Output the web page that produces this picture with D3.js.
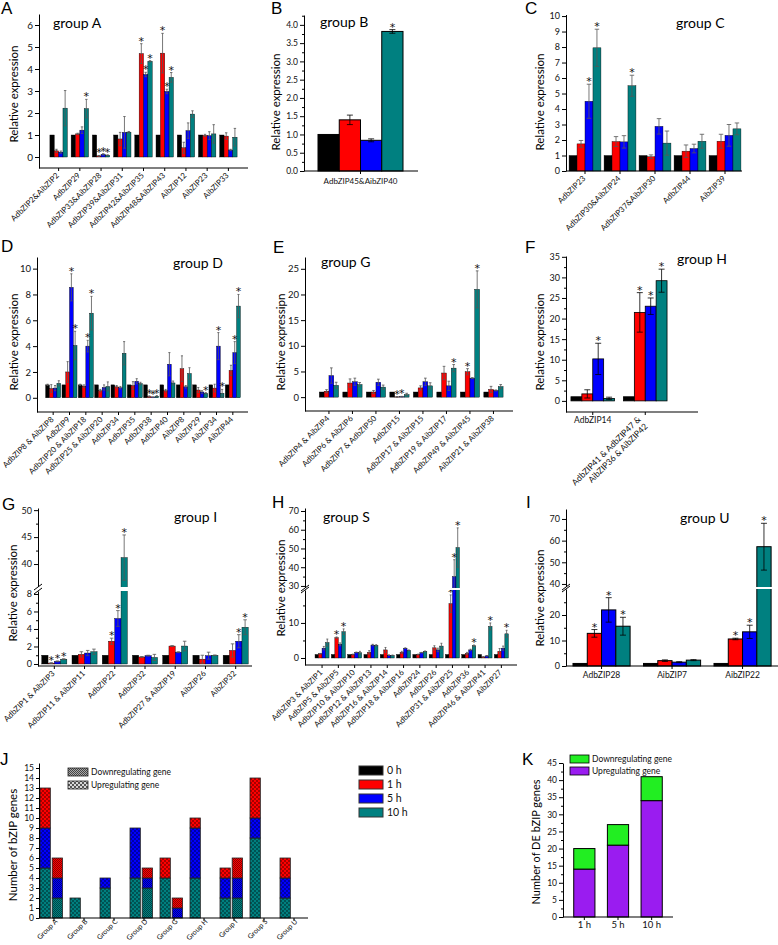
<!DOCTYPE html>
<html><head><meta charset="utf-8">
<script src="https://cdn.jsdelivr.net/npm/d3@7"></script>
<style>
body{margin:0;background:#fff;}
svg{display:block;}
</style></head><body>
<svg id="fig" width="778" height="945"></svg>
<script>
// ---------- shared ----------
const timeLabels = ["0 h","1 h","5 h","10 h"];
const timeColors = ["#000000","#ff0000","#0000ff","#008080"];

// ---------- A: group A ----------
const aCats = ["AdbZIP2&AibZIP2","AdbZIP29","AdbZIP33&AibZIP28","AdbZIP39&AibZIP31","AdbZIP42&AibZIP35","AdbZIP48&AibZIP43","AibZIP12","AibZIP23","AibZIP33"];
const aVals = [[1,0.28,0.22,2.22],[1,1.05,1.22,2.2],[1,0.05,0.12,0.08],[1,0.82,1.12,1.13],[1,4.7,3.75,4.35],[1,4.72,2.98,3.62],[1,0.42,1.2,1.95],[1,0.98,0.97,1.05],[1,0.95,0.32,0.9]];
const aErrs = [[0,0.07,0.05,0.8],[0,0.03,0.15,0.42],[0,0.02,0.03,0.02],[0,0.3,0.72,0.03],[0,0.45,0.1,0.03],[0,0.9,0.1,0.22],[0,0.25,0.35,0.15],[0,0.05,0.18,0.42],[0,0.15,0.03,0.4]];
const aStars = [[0,0,0,0],[0,0,0,1],[0,1,1,1],[0,0,0,0],[0,1,1,1],[0,1,1,1],[0,0,0,0],[0,0,0,0],[0,0,0,0]];

// ---------- B: group B ----------
const bCats = ["AdbZIP45&AibZIP40"];
const bVals = [[1,1.4,0.84,3.82]];
const bErrs = [[0,0.13,0.04,0.05]];
const bStars = [[0,0,0,1]];

// ---------- C: group C ----------
const cCats = ["AdbZIP23","AdbZIP30&AibZIP24","AdbZIP37&AibZIP30","AdbZIP44","AibZIP39"];
const cVals = [[1,1.75,4.5,7.95],[1,1.9,1.88,5.5],[1,0.92,2.88,1.8],[1,1.28,1.45,1.92],[1,1.92,2.3,2.72]];
const cErrs = [[0,0.22,1.1,1.2],[0,0.32,0.4,0.68],[0,0.12,0.5,0.78],[0,0.4,0.28,0.45],[0,0.45,0.7,0.38]];
const cStars = [[0,0,1,1],[0,0,0,1],[0,0,0,0],[0,0,0,0],[0,0,0,0]];

// ---------- D: group D ----------
const dCats = ["AdbZIP8 & AibZIP8","AdbZIP9","AdbZIP20 & AibZIP18","AdbZIP25 & AibZIP20","AdbZIP34","AdbZIP35","AdbZIP38","AdbZIP40","AibZIP8","AibZIP29","AibZIP34","AibZIP44"];
const dVals = [[1,0.72,0.75,1.12],[1,2.0,8.55,4.05],[1,0.9,4.0,6.55],[1,0.55,0.8,0.88],[1,0.85,0.78,3.45],[1,0.95,1.28,1.1],[1,0.1,0.05,0.12],[1,0.55,2.6,1.15],[1,2.25,0.85,1.88],[1,0.6,0.45,0.35],[1,0.75,4.0,0.35],[1,2.12,3.5,7.1]];
const dErrs = [[0.05,0.3,0.2,0.2],[0,0.8,1.05,1.1],[0.05,0.1,0.45,1.3],[0,0.1,0.2,0.35],[0,0.1,0.1,0.9],[0,0.3,0.2,0.1],[0,0.05,0.03,0.05],[0,0.1,0.9,0.15],[0,1.0,0.1,0.45],[0,0.2,0.1,0.05],[0,0.3,1.05,0.3],[0,0.4,0.85,0.9]];
const dStars = [[0,0,0,0],[0,0,1,1],[0,0,1,1],[0,0,0,0],[0,0,0,0],[0,0,0,0],[0,1,1,1],[0,0,0,0],[0,0,0,0],[0,0,0,1],[0,0,1,1],[0,0,1,1]];

// ---------- E: group G ----------
const eCats = ["AdbZIP4 & AibZIP4","AdbZIP6 & AibZIP6","AdbZIP7 & AdbZIP50","AdbZIP15","AdbZIP17 & AibZIP15","AdbZIP19 & AibZIP17","AdbZIP49 & AibZIP45","AibZIP21 & AibZIP38"];
const eVals = [[1,1.15,4.2,2.3],[1,2.75,3.0,2.45],[1,1.0,2.9,1.95],[1,0.05,0.1,0.5],[1,1.8,3.0,2.2],[1,4.7,2.2,5.65],[1,4.95,3.7,21.0],[1,1.5,1.3,2.05]];
const eErrs = [[0,0.3,1.5,0.6],[0,0.8,0.7,0.4],[0,0.3,0.6,0.4],[0,0.05,0.05,0.25],[0,0.4,0.7,0.6],[0,1.3,0.9,0.7],[0,0.6,0.1,3.6],[0,0.6,0.1,0.4]];
const eStars = [[0,0,0,0],[0,0,0,0],[0,0,0,0],[0,1,1,0],[0,0,0,0],[0,0,0,1],[0,1,0,1],[0,0,0,0]];

// ---------- F: group H ----------
const fCats = ["AdbZIP14","AdbZIP41 & AdbZIP47 &\nAibZIP36 & AibZIP42"];
const fVals = [[1,1.7,10.2,0.6],[1,21.5,23.0,29.2]];
const fErrs = [[0,1.0,3.8,0.3],[0,4.8,2.0,2.8]];
const fStars = [[0,0,1,0],[0,1,1,1]];

// ---------- G: group I ----------
const gCats = ["AdbZIP1 & AibZIP3","AdbZIP11 & AibZIP11","AdbZIP22","AdbZIP32","AdbZIP27 & AibZIP19","AibZIP26","AibZIP32"];
const gVals = [[1,0.1,0.3,0.55],[1,1.1,1.25,1.4],[1,2.6,5.2,41.2],[1,0.8,0.95,0.75],[1,2.05,1.35,2.05],[1,0.55,0.95,1.0],[1,1.55,2.6,4.2]];
const gErrs = [[0,0.05,0.05,0.05],[0,0.3,0.3,0.3],[0,0.35,0.9,4.2],[0,0.05,0.05,0.35],[0,0.05,0.05,0.55],[0,0.45,0.4,0.03],[0,0.75,0.75,0.85]];
const gStars = [[0,1,1,1],[0,0,0,0],[0,1,1,1],[0,0,0,0],[0,0,0,0],[0,0,0,0],[0,0,1,1]];

// ---------- H: group S ----------
const hCats = ["AdbZIP3 & AibZIP1","AdbZIP5 & AibZIP5","AdbZIP10 & AibZIP10","AdbZIP12 & AibZIP13","AdbZIP16 & AibZIP14","AdbZIP18 & AibZIP16","AdbZIP24","AdbZIP26","AdbZIP31 & AibZIP25","AdbZIP36","AdbZIP46 & AibZIP41","AibZIP27"];
const hVals = [[1,1.2,2.8,4.4],[1,5.8,3.9,7.5],[1,1.0,1.6,1.5],[1,1.6,3.7,3.6],[1,2.3,0.8,0.75],[1,1.6,2.8,2.2],[1,1.0,1.5,1.9],[1,2.9,2.3,3.4],[1,15.5,35,50.5],[1,1.3,2.3,3.5],[1,0.3,0.6,9.0],[1,1.9,2.8,6.9]];
const hErrs = [[0,0.1,0.5,1.0],[0,0.2,0.4,0.8],[0,0.1,0.1,0.4],[0,0.5,0.2,0.2],[0,0.7,0.1,0.1],[0,0.3,0.1,0.1],[0,0.1,0.1,0.1],[0,0.6,0.5,0.8],[0,2.5,9,10.5],[0,0.3,0.2,0.2],[0,0.1,0.1,1.0],[0,0.8,0.6,1.0]];
const hStars = [[0,0,0,0],[0,1,0,1],[0,0,0,0],[0,0,0,0],[0,0,0,0],[0,0,0,0],[0,0,0,0],[0,0,0,0],[0,1,1,1],[0,0,0,1],[0,0,0,1],[0,0,0,1]];

// ---------- I: group U ----------
const iCats = ["AdbZIP28","AibZIP7","AibZIP22"];
const iVals = [[1,12.8,22,15.6],[1,2.1,1.5,2.3],[1,10.6,13.4,57.2]];
const iErrs = [[0,1.5,4.8,3.5],[0,0.3,0.2,0.2],[0,0.3,2.6,10.8]];
const iStars = [[0,1,1,1],[0,0,0,0],[0,1,1,1]];

// ---------- J: counts per group ----------
const jGroups = ["Group A","Group B","Group C","Group D","Group G","Group H","Group I","Group S","Group U"];
const jUp10 = [5,2,3,4,4,4,2,8,2];
const jUp5  = [4,0,1,5,0,5,2,2,2];
const jUp1  = [4,0,0,0,2,1,1,4,2];
const jDown10 = [2,0,0,3,0,0,2,0,0];
const jDown5  = [2,0,0,1,1,0,2,0,0];
const jDown1  = [2,0,0,1,1,0,2,0,0];
const jTicks = d3.range(0,16);

// ---------- K: DE totals ----------
const kTimes = ["1 h","5 h","10 h"];
const kUp = [14,21,34];
const kDown = [6,6,7];
const kTicks = [0,5,10,15,20,25,30,35,40,45];
const kColors = {up:"#9a1cf0", down:"#22ee22"};

// ================= drawing =================
const FONT = "Lato, 'Open Sans', 'DejaVu Sans', sans-serif";
const svg = d3.select("#fig");
svg.append("rect").attr("width",778).attr("height",945).attr("fill","#fff");
const defs = svg.append("defs");

function letter(t,x,y){
  svg.append("text").attr("x",x).attr("y",y).attr("font-family","'Liberation Sans', Arial, sans-serif")
    .attr("font-size",17).attr("fill","#000").text(t);
}
function title(t,x,y){
  svg.append("text").attr("x",x).attr("y",y).attr("font-family",FONT).attr("font-size",14).attr("fill","#000").text(t);
}
function yLabel(t,x,cy,size){
  svg.append("text").attr("transform",`translate(${x},${cy}) rotate(-90)`).attr("text-anchor","middle")
    .attr("dominant-baseline","middle").attr("font-family",FONT).attr("font-size",size||11.5).attr("fill","#000").text(t);
}
function styleAxis(ax,size){
  ax.attr("font-family",FONT).attr("font-size",size);
  ax.selectAll("path,line").attr("stroke","#000").attr("stroke-width",1);
  ax.selectAll("text").attr("fill","#111");
}

function drawGrouped(c){
  const g = svg.append("g");
  const x = d3.scaleBand().domain(c.cats).range(c.band).paddingInner(c.pi).paddingOuter(c.po);
  const xs = d3.scaleBand().domain(d3.range(4)).range([0, x.bandwidth()]);
  let yf, segs;
  if (c.broken){
    const yl = d3.scaleLinear().domain(c.lower.domain).range(c.lower.range);
    const yu = d3.scaleLinear().domain(c.upper.domain).range(c.upper.range);
    yf = v => v <= c.lower.domain[1] ? yl(v) : yu(Math.max(v, c.upper.domain[0]));
    segs = [[yl,c.lower],[yu,c.upper]];
  } else {
    const y = d3.scaleLinear().domain(c.domain).range(c.range);
    yf = y; segs = [[y,c]];
  }
  const items = c.cats.flatMap((cat,i)=>c.vals[i].map((v,k)=>({cat,k,v,e:c.errs[i][k],s:c.stars[i][k]})));
  g.selectAll("rect.bar").data(items).join("rect").attr("class","bar")
    .attr("x",d=>x(d.cat)+xs(d.k)).attr("width",xs.bandwidth())
    .attr("y",d=>yf(d.v)).attr("height",d=>yf(0)-yf(d.v))
    .attr("fill",d=>timeColors[d.k]).attr("stroke","#000").attr("stroke-width",c.sw);
  const cap = Math.min(3, xs.bandwidth()*0.28);
  const eb = g.selectAll("g.err").data(items.filter(d=>d.e>0)).join("g").attr("class","err")
    .attr("stroke",c.errColor).attr("stroke-width",0.8);
  eb.append("line").attr("x1",d=>x(d.cat)+xs(d.k)+xs.bandwidth()/2).attr("x2",d=>x(d.cat)+xs(d.k)+xs.bandwidth()/2)
    .attr("y1",d=>yf(d.v-d.e)).attr("y2",d=>yf(d.v+d.e));
  eb.append("line").attr("x1",d=>x(d.cat)+xs(d.k)+xs.bandwidth()/2-cap).attr("x2",d=>x(d.cat)+xs(d.k)+xs.bandwidth()/2+cap)
    .attr("y1",d=>yf(d.v+d.e)).attr("y2",d=>yf(d.v+d.e));
  eb.append("line").attr("x1",d=>x(d.cat)+xs(d.k)+xs.bandwidth()/2-cap).attr("x2",d=>x(d.cat)+xs(d.k)+xs.bandwidth()/2+cap)
    .attr("y1",d=>yf(d.v-d.e)).attr("y2",d=>yf(d.v-d.e));
  g.selectAll("text.star").data(items.filter(d=>d.s)).join("text").attr("class","star")
    .attr("x",d=>x(d.cat)+xs(d.k)+xs.bandwidth()/2).attr("y",d=>yf(d.v+d.e)+1)
    .attr("text-anchor","middle").attr("font-family","'DejaVu Sans', sans-serif").attr("font-size",11).attr("fill","#111").text("*");
  if (c.broken){
    g.append("rect").attr("x",c.axisX+1).attr("width",c.xEnd-c.axisX).attr("y",c.upper.range[0])
      .attr("height",c.lower.range[1]-c.upper.range[0]).attr("fill","#fff");
  }
  // y axes
  segs.forEach(([s,cfg])=>{
    const ax = g.append("g").attr("transform",`translate(${c.axisX},0)`)
      .call(d3.axisLeft(s).tickValues(cfg.ticks).tickSize(4).tickSizeOuter(0).tickPadding(2).tickFormat(c.fmt||d3.format("")));
    styleAxis(ax,c.tickSize||10);
    if (cfg.minor){
      const mx = g.append("g").attr("transform",`translate(${c.axisX},0)`)
        .call(d3.axisLeft(s).tickValues(cfg.minor).tickSize(2).tickFormat(""));
      mx.select(".domain").remove(); styleAxis(mx,8);
    }
  });
  if (c.broken){
    const t = c.upper.range[0], b = c.lower.range[1];
    g.append("rect").attr("x",c.axisX-4).attr("width",8).attr("y",t).attr("height",b-t).attr("fill","#fff");
    [t,b].forEach(yy=>g.append("line").attr("x1",c.axisX-4).attr("x2",c.axisX+4).attr("y1",yy+3).attr("y2",yy-3)
      .attr("stroke","#000").attr("stroke-width",1));
  }
  // x axis
  g.append("line").attr("x1",c.axisX).attr("x2",c.xEnd).attr("y1",c.xAxisY).attr("y2",c.xAxisY).attr("stroke","#000").attr("stroke-width",1.2);
  const xa = g.append("g").attr("transform",`translate(0,${c.xAxisY})`).call(d3.axisBottom(x).tickSize(3).tickSizeOuter(0));
  xa.select(".domain").remove();
  styleAxis(xa,c.labelSize);
  xa.selectAll("text").each(function(d,i){
    const t = d3.select(this);
    const mode = typeof c.labelMode === "function" ? c.labelMode(i) : c.labelMode;
    const lines = String(d).split("\n");
    t.text(null).attr("dy",null);
    if (mode==="h") t.attr("x",0).attr("y",c.hOffset).attr("text-anchor","middle");
    else t.attr("x",0).attr("y",0).attr("text-anchor","end").attr("transform",`translate(${c.rdx??1},${c.rdy??8}) rotate(-45)`);
    lines.forEach((ln,j)=>t.append("tspan").attr("x",0).attr("dy",j?"1.15em":0).text(ln));
  });
}

// ----- panels -----
letter("A",1,14); title("group A",53,28); yLabel("Relative expression",15,94);
drawGrouped({cats:aCats,vals:aVals,errs:aErrs,stars:aStars,band:[48,239],pi:0.18,po:0.09,
  domain:[-0.5,6.5],range:[168,14],ticks:d3.range(0,7),axisX:39,xAxisY:168,xEnd:248,
  labelMode:"r",labelSize:8,sw:0.4,errColor:"#555",tickSize:10});

letter("B",271,14); title("group B",320,27); yLabel("Relative expression",277,102);
drawGrouped({cats:bCats,vals:bVals,errs:bErrs,stars:bStars,band:[318,403],pi:0,po:0,
  domain:[0,4.27],range:[171,15],ticks:d3.range(0,4.01,0.5),minor:d3.range(0.25,4.26,0.5),fmt:d3.format(".1f"),
  axisX:304,xAxisY:171,xEnd:418,labelMode:"h",hOffset:13,labelSize:8,sw:1,errColor:"#000",tickSize:8.5});

letter("C",525,14); title("group C",676,28); yLabel("Relative expression",541,102);
drawGrouped({cats:cCats,vals:cVals,errs:cErrs,stars:cStars,band:[567.5,742.5],pi:0.09,po:0.045,
  domain:[0,10.1],range:[171,14.5],ticks:d3.range(0,11),axisX:566,xAxisY:171,xEnd:742,
  labelMode:"r",labelSize:8,sw:0.4,errColor:"#555",tickSize:9});

letter("D",1,252); title("group D",173,268); yLabel("Relative expression",15,342);
drawGrouped({cats:dCats,vals:dVals,errs:dErrs,stars:dStars,band:[45,241],pi:0.08,po:0.04,
  domain:[-1.1,10.9],range:[412,257],ticks:[0,2,4,6,8,10],axisX:37,xAxisY:412,xEnd:248,
  labelMode:"r",labelSize:8,sw:0.4,errColor:"#555",tickSize:9.5});

letter("E",273,253); title("group G",321,267); yLabel("Relative expressipn",282,342);
drawGrouped({cats:eCats,vals:eVals,errs:eErrs,stars:eStars,band:[317.2,505.2],pi:0.18,po:0.09,
  domain:[-2.7,27.3],range:[411,257],ticks:[0,5,10,15,20,25],axisX:305,xAxisY:411,xEnd:513,
  labelMode:"r",labelSize:8,sw:0.4,errColor:"#555",tickSize:9.5});

letter("F",525,253); title("group H",677,264); yLabel("Relative expression",541,342);
drawGrouped({cats:fCats,vals:fVals,errs:fErrs,stars:fStars,band:[566.5,671.5],pi:0.17,po:0.085,
  domain:[-2.7,35.2],range:[412,256],ticks:d3.range(0,36,5),minor:d3.range(2.5,35,5),
  axisX:566,xAxisY:412,xEnd:698,labelMode:i=>i===0?"h":"r",hOffset:11,rdx:-4,rdy:8,labelSize:8.5,sw:0.8,errColor:"#000",tickSize:9});

letter("G",2,510); title("group I",174,522); yLabel("Relative expression",14,593);
drawGrouped({cats:gCats,vals:gVals,errs:gErrs,stars:gStars,band:[39.2,250.8],pi:0.17,po:0.085,broken:true,
  lower:{domain:[-0.23,8.34],range:[666,591],ticks:[0,2,4,6,8],minor:[1,3,5,7]},
  upper:{domain:[35.74,50.4],range:[587,508],ticks:[40,45,50],minor:[42.5,47.5]},
  axisX:38,xAxisY:666,xEnd:252,labelMode:"r",labelSize:8,sw:0.4,errColor:"#555",tickSize:9});

letter("H",272,508); title("group S",323,522); yLabel("Relative expression",282,588);
drawGrouped({cats:hCats,vals:hVals,errs:hErrs,stars:hStars,band:[313.9,509.5],pi:0.14,po:0.07,broken:true,
  lower:{domain:[-2,19.4],range:[665,590],ticks:[0,10],minor:[5,15]},
  upper:{domain:[28.9,71.6],range:[588,508],ticks:[30,40,50,60,70],minor:[35,45,55,65]},
  axisX:305,xAxisY:665,xEnd:517,labelMode:"r",labelSize:8,sw:0.4,errColor:"#555",tickSize:9});

letter("I",526,508); title("group U",680,523); yLabel("Relative expression",541,598);
drawGrouped({cats:iCats,vals:iVals,errs:iErrs,stars:iStars,band:[566.3,777.8],pi:0.19,po:0.095,broken:true,
  lower:{domain:[0,30.2],range:[666,589],ticks:[0,10,20],minor:[5,15,25]},
  upper:{domain:[38.6,74.6],range:[587,509],ticks:[40,50,60,70],minor:[45,55,65]},
  axisX:566,xAxisY:666,xEnd:778,labelMode:"h",hOffset:12,labelSize:8.5,sw:1,errColor:"#000",tickSize:9});

// ----- J -----
timeColors.forEach((col,k)=>{
  const up = defs.append("pattern").attr("id","up"+k).attr("width",4).attr("height",4).attr("patternUnits","userSpaceOnUse");
  up.append("rect").attr("width",4).attr("height",4).attr("fill",col);
  up.append("rect").attr("width",2).attr("height",2).attr("fill","#000").attr("opacity",0.35);
  up.append("rect").attr("x",2).attr("y",2).attr("width",2).attr("height",2).attr("fill","#000").attr("opacity",0.35);
  const dn = defs.append("pattern").attr("id","dn"+k).attr("width",2).attr("height",2).attr("patternUnits","userSpaceOnUse");
  dn.append("rect").attr("width",2).attr("height",2).attr("fill",col);
  dn.append("rect").attr("width",1).attr("height",1).attr("fill","#000").attr("opacity",0.45);
  dn.append("rect").attr("x",1).attr("y",1).attr("width",1).attr("height",1).attr("fill","#000").attr("opacity",0.45);
});
{
  const up = defs.append("pattern").attr("id","upG").attr("width",4).attr("height",4).attr("patternUnits","userSpaceOnUse");
  up.append("rect").attr("width",4).attr("height",4).attr("fill","#d8d8d8");
  up.append("rect").attr("width",2).attr("height",2).attr("fill","#555");
  up.append("rect").attr("x",2).attr("y",2).attr("width",2).attr("height",2).attr("fill","#555");
  const dn = defs.append("pattern").attr("id","dnG").attr("width",2).attr("height",2).attr("patternUnits","userSpaceOnUse");
  dn.append("rect").attr("width",2).attr("height",2).attr("fill","#aaa");
  dn.append("rect").attr("width",1).attr("height",1).attr("fill","#444");
  dn.append("rect").attr("x",1).attr("y",1).attr("width",1).attr("height",1).attr("fill","#444");
}

letter("J",0,765); yLabel("Number of bZIP genes",14,845,11.5);
{
  const g = svg.append("g");
  const jx = d3.scaleBand().domain(jGroups).range([39,309]);
  const jsub = d3.scaleBand().domain(["up","down"]).range([1,23.5]).paddingInner(0.15);
  const jy = d3.scaleLinear().domain([0,15.5]).range([918,763]);
  const rows = [];
  jGroups.forEach((grp,i)=>{
    rows.push({grp,type:"up",h10:jUp10[i],h5:jUp5[i],h1:jUp1[i]});
    rows.push({grp,type:"down",h10:jDown10[i],h5:jDown5[i],h1:jDown1[i]});
  });
  const keys = ["h10","h5","h1"], colIdx = {h10:3,h5:2,h1:1};
  const series = d3.stack().keys(keys)(rows);
  series.forEach(s=>{
    g.selectAll(null).data(s.filter(d=>d[1]-d[0]>0)).join("rect")
      .attr("x",d=>jx(d.data.grp)+jsub(d.data.type)).attr("width",jsub.bandwidth())
      .attr("y",d=>jy(d[1])).attr("height",d=>jy(d[0])-jy(d[1]))
      .attr("fill",d=>`url(#${d.data.type==="up"?"up":"dn"}${colIdx[s.key]})`)
      .attr("stroke","#222").attr("stroke-width",0.8);
  });
  const ay = g.append("g").attr("transform","translate(39,0)")
    .call(d3.axisLeft(jy).tickValues(jTicks).tickSize(3).tickSizeOuter(0).tickPadding(2));
  styleAxis(ay,8.5);
  g.append("line").attr("x1",39).attr("x2",308).attr("y1",918).attr("y2",918).attr("stroke","#000").attr("stroke-width",1.2);
  const ax = g.append("g").attr("transform","translate(0,918)").call(d3.axisBottom(jx).tickSize(3).tickSizeOuter(0));
  ax.select(".domain").remove(); styleAxis(ax,7);
  ax.selectAll("text").attr("x",0).attr("y",0).attr("dy",null).attr("text-anchor","end").attr("transform","translate(4,4) rotate(-45)");
  [["dnG","Downregulating gene"],["upG","Upregulating gene"]].forEach(([p,t],i)=>{
    g.append("rect").attr("x",68).attr("y",768+i*13).attr("width",20).attr("height",8).attr("fill",`url(#${p})`).attr("stroke","#222").attr("stroke-width",0.8);
    g.append("text").attr("x",91).attr("y",775+i*13).attr("font-family",FONT).attr("font-size",8.5).attr("fill","#111").text(t);
  });
  timeLabels.forEach((t,k)=>{
    g.append("rect").attr("x",359).attr("y",766+k*14).attr("width",24).attr("height",9).attr("fill",timeColors[k]).attr("stroke","#333").attr("stroke-width",1);
    g.append("text").attr("x",387).attr("y",774+k*14).attr("font-family",FONT).attr("font-size",10.5).attr("fill","#111").text(t);
  });
}

// ----- K -----
letter("K",522,765); yLabel("Number of DE bZIP genes",537,842,11);
{
  const g = svg.append("g");
  const kx = d3.scaleBand().domain(kTimes).range([567.5,668.5]).paddingInner(0.37).paddingOuter(0.185);
  const ky = d3.scaleLinear().domain([0,45]).range([917,763]);
  const rows = kTimes.map((t,i)=>({t,up:kUp[i],down:kDown[i]}));
  const series = d3.stack().keys(["up","down"])(rows);
  series.forEach(s=>{
    g.selectAll(null).data(s).join("rect")
      .attr("x",d=>kx(d.data.t)).attr("width",kx.bandwidth())
      .attr("y",d=>ky(d[1])).attr("height",d=>ky(d[0])-ky(d[1]))
      .attr("fill",kColors[s.key]).attr("stroke","#000").attr("stroke-width",1);
  });
  const ay = g.append("g").attr("transform","translate(563,0)")
    .call(d3.axisLeft(ky).tickValues(kTicks).tickSize(4).tickSizeOuter(0).tickPadding(2));
  styleAxis(ay,8.5);
  const my = g.append("g").attr("transform","translate(563,0)")
    .call(d3.axisLeft(ky).tickValues(d3.range(2.5,45,5)).tickSize(2).tickFormat(""));
  my.select(".domain").remove(); styleAxis(my,8);
  g.append("line").attr("x1",563).attr("x2",673).attr("y1",917).attr("y2",917).attr("stroke","#000").attr("stroke-width",1.2);
  const ax = g.append("g").attr("transform","translate(0,917)").call(d3.axisBottom(kx).tickSize(3).tickSizeOuter(0));
  ax.select(".domain").remove(); styleAxis(ax,9.5);
  ax.selectAll("text").attr("y",11).attr("dy",null);
  [["down","Downregulating gene"],["up","Upregulating gene"]].forEach(([k,t],i)=>{
    g.append("rect").attr("x",570).attr("y",755+i*12).attr("width",19).attr("height",8).attr("fill",kColors[k]).attr("stroke","#000").attr("stroke-width",0.8);
    g.append("text").attr("x",592).attr("y",762+i*12).attr("font-family",FONT).attr("font-size",8.5).attr("fill","#111").text(t);
  });
}
</script>
</body></html>
